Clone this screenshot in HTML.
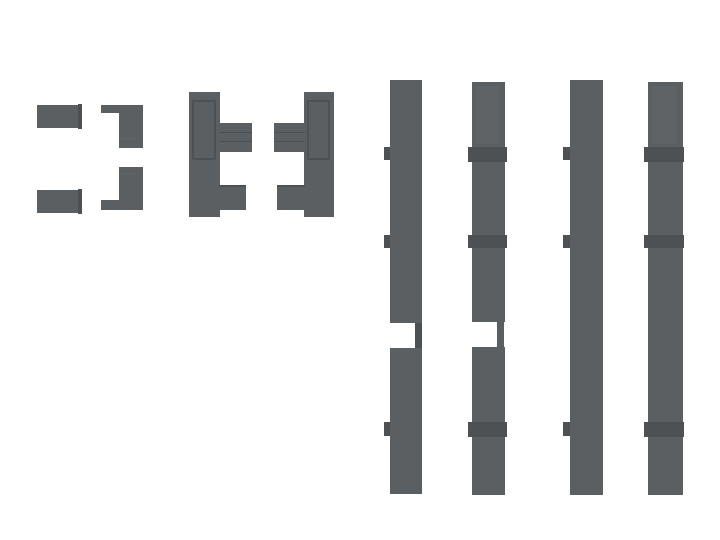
<!DOCTYPE html>
<html><head><style>
html,body{margin:0;padding:0;background:#fff}
body{width:720px;height:540px;position:relative;overflow:hidden}
.p{position:absolute;background:#5c5f61}
.d{position:absolute;background:#4e5153}
.l{position:absolute;background:#606365}
</style></head><body>
<div class="p" style="left:37px;top:105px;width:42px;height:23px"></div>
<div class="d" style="left:78px;top:104px;width:4px;height:25px"></div>
<div class="p" style="left:37px;top:190px;width:42px;height:23px"></div>
<div class="d" style="left:78px;top:189px;width:4px;height:25px"></div>
<div class="p" style="left:101px;top:105px;width:42px;height:8px"></div>
<div class="p" style="left:119px;top:105px;width:24px;height:43px"></div>
<div class="l" style="left:121px;top:138px;width:16px;height:2px"></div>
<div class="p" style="left:119px;top:167px;width:24px;height:41px"></div>
<div class="p" style="left:101px;top:200px;width:42px;height:10px"></div>
<div class="l" style="left:121px;top:173px;width:16px;height:2px"></div>
<div class="p" style="left:189px;top:92px;width:31px;height:125px"></div>
<div class="d" style="left:192px;top:100px;width:24px;height:60px"></div>
<div class="p" style="left:194px;top:102px;width:20px;height:56px"></div>
<div class="p" style="left:219px;top:123px;width:33px;height:29px"></div>
<div class="d" style="left:219px;top:132px;width:33px;height:1px"></div>
<div class="d" style="left:219px;top:141px;width:33px;height:1px"></div>
<div class="p" style="left:219px;top:185px;width:27px;height:25px"></div>
<div class="d" style="left:219px;top:185px;width:27px;height:2px"></div>
<div class="p" style="left:304px;top:92px;width:30px;height:125px"></div>
<div class="d" style="left:307px;top:100px;width:23px;height:60px"></div>
<div class="p" style="left:309px;top:102px;width:19px;height:56px"></div>
<div class="p" style="left:274px;top:123px;width:31px;height:29px"></div>
<div class="d" style="left:274px;top:132px;width:31px;height:1px"></div>
<div class="d" style="left:274px;top:141px;width:31px;height:1px"></div>
<div class="p" style="left:277px;top:185px;width:28px;height:25px"></div>
<div class="d" style="left:277px;top:185px;width:28px;height:2px"></div>
<div class="p" style="left:390px;top:80px;width:32px;height:243px"></div>
<div class="d" style="left:415px;top:323px;width:7px;height:25px"></div>
<div class="p" style="left:390px;top:348px;width:32px;height:146px"></div>
<div class="d" style="left:384px;top:147px;width:6px;height:13px"></div>
<div class="d" style="left:384px;top:235px;width:6px;height:13px"></div>
<div class="d" style="left:384px;top:422px;width:6px;height:14px"></div>
<div class="p" style="left:472px;top:82px;width:33px;height:240px"></div>
<div class="p" style="left:497px;top:322px;width:7px;height:40px"></div>
<div class="p" style="left:472px;top:347px;width:33px;height:148px"></div>
<div class="d" style="left:468px;top:147px;width:39px;height:15px"></div>
<div class="d" style="left:468px;top:235px;width:39px;height:13px"></div>
<div class="d" style="left:468px;top:422px;width:39px;height:15px"></div>
<div class="l" style="left:476px;top:86px;width:23px;height:58px"></div>
<div class="p" style="left:570px;top:80px;width:33px;height:415px"></div>
<div class="d" style="left:563px;top:147px;width:7px;height:13px"></div>
<div class="d" style="left:563px;top:235px;width:7px;height:13px"></div>
<div class="d" style="left:563px;top:422px;width:7px;height:14px"></div>
<div class="p" style="left:648px;top:82px;width:35px;height:413px"></div>
<div class="d" style="left:644px;top:147px;width:40px;height:15px"></div>
<div class="d" style="left:644px;top:235px;width:40px;height:13px"></div>
<div class="d" style="left:644px;top:422px;width:40px;height:15px"></div>
<div class="l" style="left:652px;top:86px;width:25px;height:58px"></div>
</body></html>
